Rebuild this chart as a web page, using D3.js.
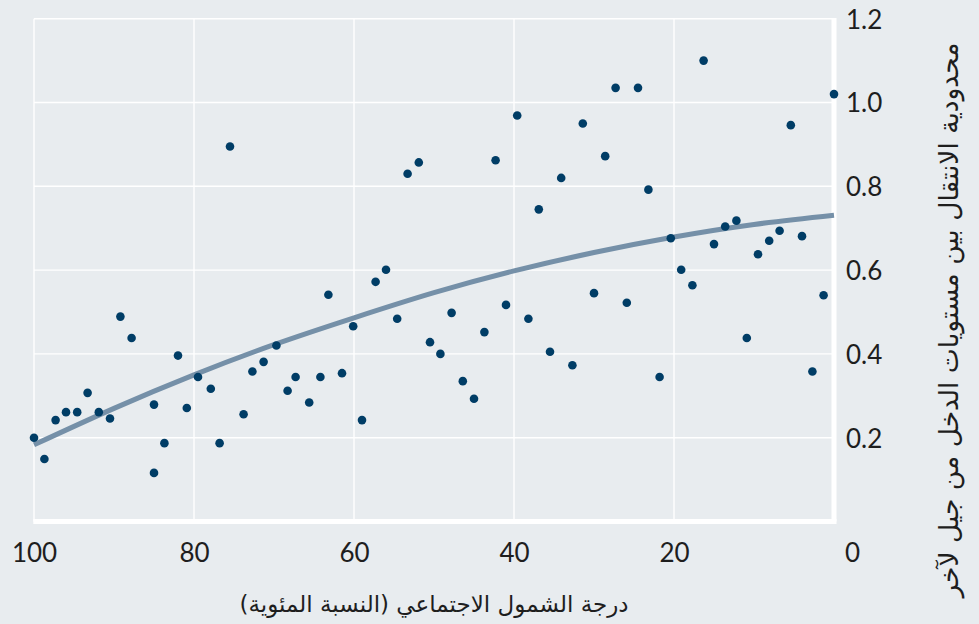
<!DOCTYPE html>
<html>
<head>
<meta charset="utf-8">
<script src="https://cdn.jsdelivr.net/npm/d3@7"></script>
<style>
  html, body { margin: 0; padding: 0; background: #e8ecef; }
  svg { display: block; }
</style>
</head>
<body>
<svg id="chart" width="979" height="624"></svg>
<script>
// Social inclusion score (percentile), x
const inclusion = [100.0, 98.7, 97.3, 96.0, 94.6, 93.3, 91.9, 90.5, 89.2, 87.8,
  85.0, 85.0, 83.7, 82.0, 80.9, 79.5, 77.9, 76.8, 75.5, 73.8,
  72.7, 71.3, 69.7, 68.3, 67.3, 65.6, 64.2, 63.2, 61.5, 60.1,
  59.0, 57.3, 56.0, 54.6, 53.3, 51.9, 50.5, 49.2, 47.8, 46.4,
  45.0, 43.7, 42.3, 41.0, 39.6, 38.2, 36.9, 35.5, 34.1, 32.7,
  31.4, 30.0, 28.6, 27.3, 25.9, 24.5, 23.2, 21.8, 20.4, 19.1,
  17.7, 16.3, 15.0, 13.6, 12.2, 10.9, 9.5, 8.1, 6.8, 5.4,
  4.0, 2.7, 1.3, 0.0];
// Intergenerational income immobility, y
const immobility = [0.200, 0.149, 0.242, 0.261, 0.261, 0.307, 0.261, 0.246, 0.489, 0.438,
  0.116, 0.279, 0.187, 0.396, 0.271, 0.345, 0.317, 0.187, 0.895, 0.256,
  0.358, 0.381, 0.420, 0.312, 0.345, 0.284, 0.345, 0.541, 0.354, 0.466,
  0.242, 0.572, 0.601, 0.484, 0.830, 0.857, 0.428, 0.400, 0.498, 0.335,
  0.293, 0.452, 0.862, 0.517, 0.969, 0.484, 0.745, 0.405, 0.820, 0.373,
  0.950, 0.545, 0.872, 1.035, 0.522, 1.035, 0.792, 0.345, 0.676, 0.601,
  0.564, 1.100, 0.662, 0.704, 0.718, 0.438, 0.638, 0.670, 0.694, 0.946,
  0.681, 0.358, 0.540, 1.020];
// Fitted curve
const fitX = [0, 10, 20, 30, 40, 50, 60, 70, 80, 90, 100];
const fitY = [0.731, 0.709, 0.679, 0.642, 0.598, 0.546, 0.486, 0.422, 0.350, 0.270, 0.183];
const xTicks = [100, 80, 60, 40, 20, 0];
const yTicks = [0.2, 0.4, 0.6, 0.8, 1.0, 1.2];
const xTitle = "درجة الشمول الاجتماعي (النسبة المئوية)";
const yTitle = "محدودية الانتقال بين مستويات الدخل من جيل لآخر";

const svg = d3.select("#chart");
const BG = "#e8ecef";
svg.append("rect").attr("width", 979).attr("height", 624).attr("fill", BG);

const x = d3.scaleLinear().domain([100, 0]).range([34, 834]);
const y = d3.scaleLinear().domain([0, 1.2]).range([521.5, 18.7]);

const tickFont = "Lato, 'Open Sans', sans-serif";
const arFont = "'DejaVu Sans', sans-serif";

// grid
const grid = svg.append("g");
grid.selectAll("line.v").data(xTicks).join("line")
  .attr("x1", d => x(d)).attr("x2", d => x(d))
  .attr("y1", y(1.2)).attr("y2", y(0))
  .attr("stroke", "#ffffff").attr("stroke-width", 1.4);
grid.selectAll("line.h").data(yTicks).join("line")
  .attr("x1", x(100)).attr("x2", x(0))
  .attr("y1", d => y(d)).attr("y2", d => y(d))
  .attr("stroke", "#ffffff").attr("stroke-width", 1.4);
// bottom and right axis bands
svg.append("line").attr("x1", x(100) - 0.7).attr("x2", x(0) + 2.5)
  .attr("y1", y(0)).attr("y2", y(0)).attr("stroke", "#ffffff").attr("stroke-width", 5);
svg.append("line").attr("x1", x(0)).attr("x2", x(0))
  .attr("y1", y(1.2) - 0.7).attr("y2", y(0)).attr("stroke", "#ffffff").attr("stroke-width", 5);

// fitted line
const line = d3.line().x(d => x(d[0])).y(d => y(d[1])).curve(d3.curveNatural);
svg.append("path").datum(fitX.map((v, i) => [v, fitY[i]]))
  .attr("d", line).attr("fill", "none")
  .attr("stroke", "#7590a8").attr("stroke-width", 5);

// points
svg.append("g").selectAll("circle").data(inclusion.map((v, i) => [v, immobility[i]]))
  .join("circle")
  .attr("cx", d => x(d[0])).attr("cy", d => y(d[1]))
  .attr("r", 4.3).attr("fill", "#003d66");

// y axis (right)
const yAxis = svg.append("g").attr("transform", `translate(${x(0)},0)`)
  .call(d3.axisRight(y).tickValues(yTicks).tickSize(0).tickPadding(12).tickFormat(d3.format(".1f")));
yAxis.select(".domain").remove();
yAxis.selectAll("text").attr("font-family", tickFont).attr("font-size", 26).attr("fill", "#1e1e1e")
  .attr("dy", "0.36em");

// x axis (bottom)
const xAxis = svg.append("g").attr("transform", `translate(0,${y(0)})`)
  .call(d3.axisBottom(x).tickValues(xTicks).tickSize(0).tickFormat(d3.format("d")));
xAxis.select(".domain").remove();
xAxis.selectAll("text").attr("font-family", tickFont).attr("font-size", 26).attr("fill", "#1e1e1e")
  .attr("y", 31.5).attr("dy", "0.36em");
xAxis.selectAll(".tick").filter(d => d === 0).select("text").attr("x", 18);

// titles
svg.append("text").attr("x", (x(100) + x(0)) / 2).attr("y", 612)
  .attr("text-anchor", "middle").attr("direction", "rtl")
  .attr("font-family", arFont).attr("font-size", 23).attr("fill", "#1e1e1e")
  .text(xTitle);
svg.append("text").attr("transform", "translate(958,320) rotate(-90)")
  .attr("text-anchor", "middle").attr("direction", "rtl")
  .attr("font-family", arFont).attr("font-size", 26.5).attr("fill", "#1e1e1e")
  .text(yTitle);
</script>
</body>
</html>
